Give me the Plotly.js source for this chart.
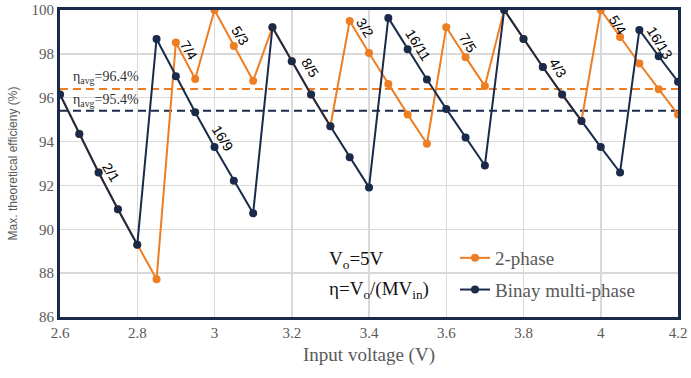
<!DOCTYPE html>
<html>
<head>
<meta charset="utf-8">
<script src="https://cdn.plot.ly/plotly-3.0.1.min.js"></script>
<style>html,body{margin:0;padding:0;background:#fff;}#chart{width:691px;height:378px;}</style>
</head>
<body>
<div id="chart"></div>
<script>
// Input voltage (V)
const vin = [2.6,2.65,2.7,2.75,2.8,2.85,2.9,2.95,3.0,3.05,3.1,3.15,3.2,3.25,3.3,3.35,3.4,3.45,3.5,3.55,3.6,3.65,3.7,3.75,3.8,3.85,3.9,3.95,4.0,4.05,4.1,4.15,4.2];
// 2-phase efficiency (%)
const twoPhase = [96.15,94.34,92.59,90.91,89.29,87.72,98.52,96.85,100.0,98.36,96.77,99.21,97.66,96.15,94.70,99.50,98.04,96.62,95.24,93.90,99.21,97.85,96.53,100.0,98.68,97.40,96.15,94.94,100.0,98.77,97.56,96.39,95.24];
// Binary multi-phase efficiency (%)
const binary = [96.15,94.34,92.59,90.91,89.29,98.68,96.98,95.34,93.75,92.21,90.73,99.21,97.66,96.15,94.70,93.28,91.91,99.64,98.21,96.83,95.49,94.18,92.91,100.0,98.68,97.40,96.15,94.94,93.75,92.59,99.09,97.89,96.73];
// Averages
const avgX = [2.6, 4.2];
const avgTwoPhase = 96.4;
const avgBinary = 95.4;
// Conversion-ratio labels
const ratioLabels = ["2/1","7/4","5/3","16/9","8/5","3/2","16/11","7/5","4/3","5/4","16/13"];
const ratioX = [2.731,2.933,3.067,3.021,3.248,3.390,3.527,3.656,3.889,4.044,4.153];
const ratioY = [92.6,98.17,98.81,94.16,97.35,99.18,98.40,98.49,97.35,99.32,98.49];

const ORANGE = '#ef7d22';
const NAVY = '#1a2a4a';
const SERIF = 'Liberation Serif';
const SANS = 'Liberation Sans';

const traces = [
  {x: avgX, y: [avgTwoPhase, avgTwoPhase], mode: 'lines', line: {color: ORANGE, width: 2, dash: '8px,5px'}, showlegend: false, hoverinfo: 'skip'},
  {x: avgX, y: [avgBinary, avgBinary], mode: 'lines', line: {color: NAVY, width: 2, dash: '8px,5px'}, showlegend: false, hoverinfo: 'skip'},
  {x: vin, y: twoPhase, name: '2-phase', mode: 'lines+markers', line: {color: ORANGE, width: 2}, marker: {color: ORANGE, size: 8}, legendgroup: 'a'},
  {x: vin, y: binary, name: 'Binay multi-phase', mode: 'lines+markers', line: {color: NAVY, width: 2}, marker: {color: NAVY, size: 8}, legendgroup: 'b'}
];

const annotations = ratioLabels.map((t, i) => ({
  x: ratioX[i], y: ratioY[i], xref: 'x', yref: 'y', text: t, showarrow: false,
  textangle: 58, font: {family: SANS, size: 14, color: '#000'}
}));
annotations.push(
  {x: 2.718, y: 96.9, xref: 'x', yref: 'y', text: 'η<sub>avg</sub>=96.4%', showarrow: false, font: {family: SERIF, size: 14, color: '#333'}},
  {x: 2.718, y: 95.89, xref: 'x', yref: 'y', text: 'η<sub>avg</sub>=95.4%', showarrow: false, font: {family: SERIF, size: 14, color: '#333'}},
  {x: (327-60)/618, y: (317-260)/307, xref: 'paper', yref: 'paper', xanchor: 'left', yanchor: 'middle', text: 'V<sub>o</sub>=5V', showarrow: false, font: {family: SERIF, size: 19, color: '#111'}},
  {x: (327-60)/618, y: (317-290)/307, xref: 'paper', yref: 'paper', xanchor: 'left', yanchor: 'middle', text: 'η=V<sub>o</sub>/(MV<sub>in</sub>)', showarrow: false, font: {family: SERIF, size: 19, color: '#111'}}
);

const layout = {
  width: 691, height: 378,
  margin: {l: 60, r: 13, t: 10, b: 61},
  paper_bgcolor: '#fff', plot_bgcolor: '#fff',
  xaxis: {
    range: [2.6, 4.2], dtick: 0.2, tick0: 2.6,
    showgrid: true, gridcolor: '#d9d9d9', gridwidth: 1.5,
    zeroline: false, showline: true, mirror: true, linecolor: NAVY, linewidth: 3,
    ticks: '', tickfont: {family: SERIF, size: 15, color: '#595959'},
    title: {text: 'Input voltage (V)', font: {family: SERIF, size: 19, color: '#595959'}, standoff: 8}
  },
  yaxis: {
    range: [86, 100], dtick: 2,
    showgrid: true, gridcolor: '#d9d9d9', gridwidth: 1.5,
    zeroline: false, showline: true, mirror: true, linecolor: NAVY, linewidth: 3,
    ticks: '', tickfont: {family: SERIF, size: 15, color: '#595959'},
    title: {text: 'Max. theoretical efficieny (%)', font: {family: SANS, size: 12, color: '#595959'}, standoff: 12}
  },
  shapes: [{
    type: 'rect', xref: 'paper', yref: 'paper', layer: 'between',
    x0: (323-60)/618, x1: (645-60)/618, y0: (317-302)/307, y1: (317-235)/307,
    fillcolor: '#fff', line: {width: 0}
  }],
  legend: {
    x: (455-60)/618, y: (317-239)/307, xanchor: 'left', yanchor: 'top',
    bgcolor: 'rgba(0,0,0,0)', font: {family: SERIF, size: 19, color: '#595959'},
    traceorder: 'grouped', tracegroupgap: 4, itemwidth: 30
  },
  annotations: annotations,
  showlegend: true
};

Plotly.newPlot('chart', traces, layout, {displayModeBar: false, staticPlot: true});
</script>
</body>
</html>
